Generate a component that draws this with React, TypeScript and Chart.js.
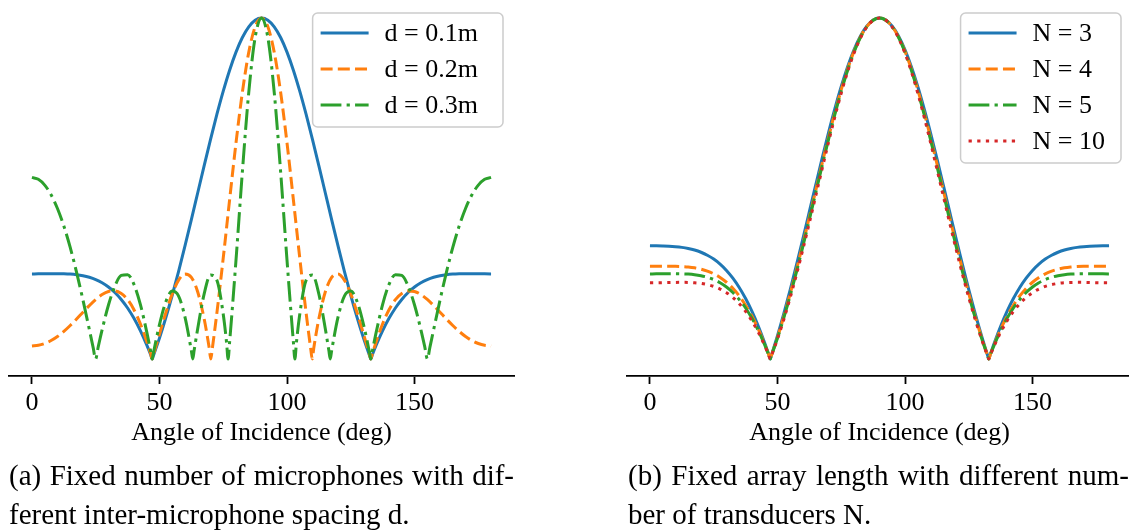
import React, { useEffect, useRef } from 'react';
import { Chart, registerables } from 'chart.js';

Chart.register(...registerables);

const FONT = '"Liberation Serif", "Times New Roman", Times, serif';

// ---- angles (deg) ----
const ANGLE_A = [
  0, 2.5, 5, 7.5, 10, 12.5, 15, 17.5, 20, 22.5,
  25, 27.5, 30, 32.5, 35, 37.5, 40, 42.5, 45, 46.5,
  47.16, 47.5, 50, 52.5, 55, 57.5, 60, 62.5, 65, 67.5,
  70, 72.5, 75, 77.5, 80, 82.5, 85, 87.5, 90,
  92.5, 95, 97.5, 100, 102.5, 105, 107.5, 110,
  112.5, 115, 117.5, 120, 122.5, 125, 127.5, 130, 132.5, 132.84,
  133.5, 135, 137.5, 140, 142.5, 145, 147.5, 150, 152.5, 155,
  157.5, 160, 162.5, 165, 167.5, 170, 172.5, 175, 177.5, 180,
];

const ANGLE_D02 = [
  0, 2.5, 5, 7.5, 10, 12.5, 15, 17.5, 20, 22.5,
  25, 27.5, 30, 32.5, 35, 37.5, 40, 42.5, 45, 46.5,
  47.16, 47.5, 50, 52.5, 55, 57.5, 60, 62.5, 65, 67.5,
  69.5, 70.12, 70.7, 72.5, 75, 77.5, 80, 82.5, 85, 87.5,
  90,
  92.5, 95, 97.5, 100, 102.5, 105, 107.5, 109.3, 109.88, 110.5,
  112.5, 115, 117.5, 120, 122.5, 125, 127.5, 130, 132.5, 132.84,
  133.5, 135, 137.5, 140, 142.5, 145, 147.5, 150, 152.5, 155,
  157.5, 160, 162.5, 165, 167.5, 170, 172.5, 175, 177.5, 180,
];

const ANGLE_D03 = [
  0, 2.5, 5, 7.5, 10, 12.5, 15, 17.5, 20, 22.5,
  24, 24.96, 26, 27.5, 30, 32.5, 35, 37.5, 40, 42.5,
  45, 46.5, 47.16, 47.5, 50, 52.5, 55, 57.5, 60, 62.5,
  63.04, 63.6, 65, 67.5, 70, 72.5, 75, 76.3, 76.9, 77.5,
  80, 82.5, 85, 87.5, 90,
  92.5, 95, 97.5, 100, 102.5, 103.1, 103.7, 105, 107.5, 110,
  112.5, 115, 116.4, 116.96, 117.5, 120, 122.5, 125, 127.5, 130,
  132.5, 132.84, 133.5, 135, 137.5, 140, 142.5, 145, 147.5, 150,
  152.5, 154, 155.04, 156, 157.5, 160, 162.5, 165, 167.5, 170,
  172.5, 175, 177.5, 180,
];

// ---- (a) fixed number of microphones ----
const GAIN_D01 = [
  0.2495, 0.2496, 0.2498, 0.2499, 0.25, 0.2497, 0.2489, 0.2472, 0.2442, 0.2396,
  0.2329, 0.2236, 0.2111, 0.195, 0.1746, 0.1495, 0.1191, 0.0831, 0.0411, 0.0132,
  0, 0.007, 0.0611, 0.1212, 0.1868, 0.2572, 0.3316, 0.4088, 0.4876, 0.5664,
  0.6435, 0.7172, 0.7856, 0.8471, 0.9, 0.9428, 0.9743, 0.9935, 1.0,
  0.9935, 0.9743, 0.9428, 0.9, 0.8471, 0.7856, 0.7172, 0.6435,
  0.5664, 0.4876, 0.4088, 0.3316, 0.2572, 0.1868, 0.1212, 0.0611, 0.007, 0,
  0.0132, 0.0411, 0.0831, 0.1191, 0.1495, 0.1746, 0.195, 0.2111, 0.2236, 0.2329,
  0.2396, 0.2442, 0.2472, 0.2489, 0.2497, 0.25, 0.2499, 0.2498, 0.2496, 0.2495,
];

const GAIN_D02 = [
  0.0382, 0.04, 0.0453, 0.054, 0.0659, 0.0808, 0.0981, 0.1171, 0.137, 0.1566,
  0.1745, 0.1889, 0.1979, 0.1996, 0.1922, 0.1742, 0.1445, 0.1032, 0.0513, 0.0163,
  0, 0.0086, 0.0727, 0.1356, 0.1909, 0.2312, 0.2495, 0.2395, 0.1964, 0.1183,
  0.0321, 0, 0.0299, 0.1346, 0.2963, 0.467, 0.6337, 0.7822, 0.8993, 0.9742,
  1.0,
  0.9742, 0.8993, 0.7822, 0.6337, 0.467, 0.2963, 0.1346, 0.0299, 0, 0.0321,
  0.1183, 0.1964, 0.2395, 0.2495, 0.2312, 0.1909, 0.1356, 0.0727, 0.0086, 0,
  0.0163, 0.0513, 0.1032, 0.1445, 0.1742, 0.1922, 0.1996, 0.1979, 0.1889, 0.1745,
  0.1566, 0.137, 0.1171, 0.0981, 0.0808, 0.0659, 0.054, 0.0453, 0.04, 0.0382,
];

const GAIN_D03 = [
  0.5325, 0.5269, 0.5099, 0.4816, 0.4415, 0.3899, 0.3272, 0.2542, 0.1729, 0.0862,
  0.0333, 0, 0.0361, 0.0853, 0.1582, 0.2136, 0.2449, 0.2472, 0.2186, 0.1602,
  0.0793, 0.0245, 0, 0.0128, 0.1009, 0.168, 0.1991, 0.1843, 0.1226, 0.0243,
  0, 0.0254, 0.0896, 0.1902, 0.2461, 0.2311, 0.1311, 0.0481, 0, 0.05,
  0.2896, 0.5491, 0.7815, 0.9425, 1.0,
  0.9425, 0.7815, 0.5491, 0.2896, 0.05, 0, 0.0481, 0.1311, 0.2311, 0.2461,
  0.1902, 0.0896, 0.0254, 0, 0.0243, 0.1226, 0.1843, 0.1991, 0.168, 0.1009,
  0.0128, 0, 0.0245, 0.0793, 0.1602, 0.2186, 0.2472, 0.2449, 0.2136, 0.1582,
  0.0853, 0.0361, 0, 0.0333, 0.0862, 0.1729, 0.2542, 0.3272, 0.3899, 0.4415,
  0.4816, 0.5099, 0.5269, 0.5325,
];

// ---- (b) fixed array length ----
const GAIN_N3 = [
  0.3321, 0.3319, 0.3315, 0.3308, 0.3294, 0.3273, 0.3241, 0.3195, 0.313, 0.3043,
  0.2929, 0.2782, 0.2598, 0.2371, 0.2098, 0.1774, 0.1396, 0.0961, 0.047, 0.0149,
  0, 0.0079, 0.0682, 0.1336, 0.2036, 0.2774, 0.3539, 0.432, 0.5106, 0.5881,
  0.6631, 0.7339, 0.7992, 0.8573, 0.9069, 0.9469, 0.9761, 0.9939, 1.0,
  0.9939, 0.9761, 0.9469, 0.9069, 0.8573, 0.7992, 0.7339, 0.6631,
  0.5881, 0.5106, 0.432, 0.3539, 0.2774, 0.2036, 0.1336, 0.0682, 0.0079, 0,
  0.0149, 0.047, 0.0961, 0.1396, 0.1774, 0.2098, 0.2371, 0.2598, 0.2782, 0.2929,
  0.3043, 0.313, 0.3195, 0.3241, 0.3273, 0.3294, 0.3308, 0.3315, 0.3319, 0.3321,
];

const GAIN_N4 = [
  0.2721, 0.2721, 0.2722, 0.2721, 0.2718, 0.2711, 0.2697, 0.2673, 0.2634, 0.2578,
  0.2498, 0.2391, 0.225, 0.2071, 0.1848, 0.1576, 0.1251, 0.0869, 0.0428, 0.0137,
  0, 0.0072, 0.0633, 0.125, 0.1919, 0.2634, 0.3384, 0.416, 0.4947, 0.5731,
  0.6496, 0.7224, 0.7899, 0.8503, 0.9021, 0.9441, 0.9748, 0.9935, 1.0,
  0.9935, 0.9748, 0.9441, 0.9021, 0.8503, 0.7899, 0.7224, 0.6496,
  0.5731, 0.4947, 0.416, 0.3384, 0.2634, 0.1919, 0.125, 0.0633, 0.0072, 0,
  0.0137, 0.0428, 0.0869, 0.1251, 0.1576, 0.1848, 0.2071, 0.225, 0.2391, 0.2498,
  0.2578, 0.2634, 0.2673, 0.2697, 0.2711, 0.2718, 0.2721, 0.2722, 0.2721, 0.2721,
];

const GAIN_N5 = [
  0.2495, 0.2496, 0.2498, 0.2499, 0.25, 0.2497, 0.2489, 0.2472, 0.2442, 0.2396,
  0.2329, 0.2236, 0.2111, 0.195, 0.1746, 0.1495, 0.1191, 0.0831, 0.0411, 0.0132,
  0, 0.007, 0.0611, 0.1212, 0.1868, 0.2572, 0.3316, 0.4088, 0.4876, 0.5664,
  0.6435, 0.7172, 0.7856, 0.8471, 0.9, 0.9428, 0.9743, 0.9935, 1.0,
  0.9935, 0.9743, 0.9428, 0.9, 0.8471, 0.7856, 0.7172, 0.6435,
  0.5664, 0.4876, 0.4088, 0.3316, 0.2572, 0.1868, 0.1212, 0.0611, 0.007, 0,
  0.0132, 0.0411, 0.0831, 0.1191, 0.1495, 0.1746, 0.195, 0.2111, 0.2236, 0.2329,
  0.2396, 0.2442, 0.2472, 0.2489, 0.2497, 0.25, 0.2499, 0.2498, 0.2496, 0.2495,
];

const GAIN_N10 = [
  0.2234, 0.2235, 0.2238, 0.2242, 0.2246, 0.2247, 0.2245, 0.2236, 0.2216, 0.2181,
  0.2128, 0.2051, 0.1945, 0.1804, 0.1623, 0.1395, 0.1117, 0.0783, 0.0389, 0.0125,
  0, 0.0066, 0.0585, 0.1164, 0.1803, 0.2493, 0.3228, 0.3996, 0.4783, 0.5576,
  0.6355, 0.7103, 0.78, 0.8429, 0.8971, 0.9411, 0.9734, 0.9933, 1.0,
  0.9933, 0.9734, 0.9411, 0.8971, 0.8429, 0.78, 0.7103, 0.6355,
  0.5576, 0.4783, 0.3996, 0.3228, 0.2493, 0.1803, 0.1164, 0.0585, 0.0066, 0,
  0.0125, 0.0389, 0.0783, 0.1117, 0.1395, 0.1623, 0.1804, 0.1945, 0.2051, 0.2128,
  0.2181, 0.2216, 0.2236, 0.2245, 0.2247, 0.2246, 0.2242, 0.2238, 0.2235, 0.2234,
];

const LABELS_A = ['d = 0.1m', 'd = 0.2m', 'd = 0.3m'];
const LABELS_B = ['N = 3', 'N = 4', 'N = 5', 'N = 10'];
const X_TICKS = [0, 50, 100, 150];
const X_TITLE = 'Angle of Incidence (deg)';
const CAPTION_A = ['(a) Fixed number of microphones with dif-', 'ferent inter-microphone spacing d.'];
const CAPTION_B = ['(b) Fixed array length with different num-', 'ber of transducers N.'];

const COLORS = ['#1f77b4', '#ff7f0e', '#2ca02c', '#d62728'];
const DASHES = [[], [12, 5.2], [20.8, 5.2, 3.25, 5.2], [3.25, 5.4]];

type Series = { label: string; angles: number[]; gains: number[] };

const SERIES_A: Series[] = [
  { label: LABELS_A[0], angles: ANGLE_A, gains: GAIN_D01 },
  { label: LABELS_A[1], angles: ANGLE_D02, gains: GAIN_D02 },
  { label: LABELS_A[2], angles: ANGLE_D03, gains: GAIN_D03 },
];
const SERIES_B: Series[] = [
  { label: LABELS_B[0], angles: ANGLE_A, gains: GAIN_N3 },
  { label: LABELS_B[1], angles: ANGLE_A, gains: GAIN_N4 },
  { label: LABELS_B[2], angles: ANGLE_A, gains: GAIN_N5 },
  { label: LABELS_B[3], angles: ANGLE_A, gains: GAIN_N10 },
];

const boxLegend = {
  id: 'boxLegend',
  afterDraw(chart: any, _args: any, opts: any) {
    const ctx = chart.ctx as CanvasRenderingContext2D;
    const area = chart.chartArea;
    const ds = chart.data.datasets as any[];
    ctx.save();
    ctx.font = `26px ${FONT}`;
    const maxW = Math.max(...ds.map((d) => ctx.measureText(d.label).width));
    const w = 72 + maxW + (opts && opts.pad != null ? opts.pad : 20);
    const rowH = 36;
    const h = 20 + (ds.length - 1) * rowH + 22;
    const right = area.right - 11;
    const top = area.top + 12;
    const left = right - w;
    const r = 5;
    ctx.beginPath();
    ctx.moveTo(left + r, top);
    ctx.lineTo(right - r, top);
    ctx.arcTo(right, top, right, top + r, r);
    ctx.lineTo(right, top + h - r);
    ctx.arcTo(right, top + h, right - r, top + h, r);
    ctx.lineTo(left + r, top + h);
    ctx.arcTo(left, top + h, left, top + h - r, r);
    ctx.lineTo(left, top + r);
    ctx.arcTo(left, top, left + r, top, r);
    ctx.closePath();
    ctx.fillStyle = 'rgba(255,255,255,0.8)';
    ctx.fill();
    ctx.lineWidth = 1.5;
    ctx.strokeStyle = '#cccccc';
    ctx.stroke();
    ds.forEach((d, i) => {
      const y = top + 20 + i * rowH;
      ctx.beginPath();
      ctx.setLineDash(d.borderDash || []);
      ctx.lineCap = 'butt';
      ctx.strokeStyle = d.borderColor;
      ctx.lineWidth = 3;
      ctx.moveTo(left + 8, y);
      ctx.lineTo(left + 56, y);
      ctx.stroke();
      ctx.setLineDash([]);
      ctx.fillStyle = '#000';
      ctx.textBaseline = 'middle';
      ctx.textAlign = 'left';
      ctx.fillText(d.label, left + 72, y + 1);
    });
    ctx.restore();
  },
};

function BeamChart({ series, left, legendPad }: { series: Series[]; left: number; legendPad: number }) {
  const ref = useRef<HTMLCanvasElement | null>(null);
  useEffect(() => {
    if (!ref.current) return;
    const datasets = series.map((s, i) => ({
      label: s.label,
      data: s.angles.map((a, k) => ({ x: a, y: s.gains[k] })),
      borderColor: COLORS[i],
      backgroundColor: COLORS[i],
      borderWidth: 3,
      borderDash: DASHES[i],
      borderCapStyle: 'butt',
      pointRadius: 0,
      pointHoverRadius: 0,
      fill: false,
      cubicInterpolationMode: 'monotone',
      order: series.length - i,
    }));
    const chart = new Chart(ref.current, {
      type: 'line',
      data: { datasets } as any,
      options: {
        responsive: false,
        animation: false,
        devicePixelRatio: 1,
        layout: { padding: { left: 9, right: 46, top: 1, bottom: 4 } },
        plugins: {
          legend: { display: false },
          tooltip: { enabled: false },
          boxLegend: { pad: legendPad },
        },
        scales: {
          x: {
            type: 'linear',
            min: -9,
            max: 189,
            afterBuildTicks: (axis: any) => {
              axis.ticks = X_TICKS.map((v) => ({ value: v }));
            },
            afterFit: (axis: any) => {
              axis.height = 80;
            },
            ticks: {
              font: { family: FONT, size: 26 },
              color: '#000',
              padding: 4,
              maxRotation: 0,
              autoSkip: false,
            },
            grid: {
              drawOnChartArea: false,
              drawTicks: true,
              tickLength: 8,
              tickWidth: 1.8,
              tickColor: '#000',
            },
            border: { display: true, color: '#000', width: 1.8 },
            title: {
              display: true,
              text: X_TITLE,
              color: '#000',
              font: { family: FONT, size: 26 },
              padding: { top: 0, bottom: 7.4 },
            },
          },
          y: { type: 'linear', display: false, min: -0.05, max: 1.05 },
        },
      } as any,
      plugins: [boxLegend],
    });
    return () => chart.destroy();
  }, [series, legendPad]);
  return (
    <canvas
      ref={ref}
      width={560}
      height={460}
      style={{ position: 'absolute', left, top: 0, width: 560, height: 460 }}
    />
  );
}

function Caption({ lines, left, width }: { lines: string[]; left: number; width: number }) {
  return (
    <div
      style={{
        position: 'absolute',
        left,
        top: 456,
        width,
        fontFamily: FONT,
        fontSize: 29,
        lineHeight: '39px',
        color: '#000',
      }}
    >
      <div style={{ textAlign: 'justify', textAlignLast: 'justify' } as any}>{lines[0]}</div>
      <div style={{ textAlign: 'left' }}>{lines[1]}</div>
    </div>
  );
}

export default function App() {
  return (
    <div
      style={{
        position: 'absolute',
        left: 0,
        top: 0,
        width: 1129,
        height: 530,
        overflow: 'hidden',
        background: '#fff',
      }}
    >
      <BeamChart series={SERIES_A} left={0} legendPad={25} />
      <BeamChart series={SERIES_B} left={618} legendPad={16} />
      <Caption lines={CAPTION_A} left={9} width={505} />
      <Caption lines={CAPTION_B} left={628} width={501} />
    </div>
  );
}
